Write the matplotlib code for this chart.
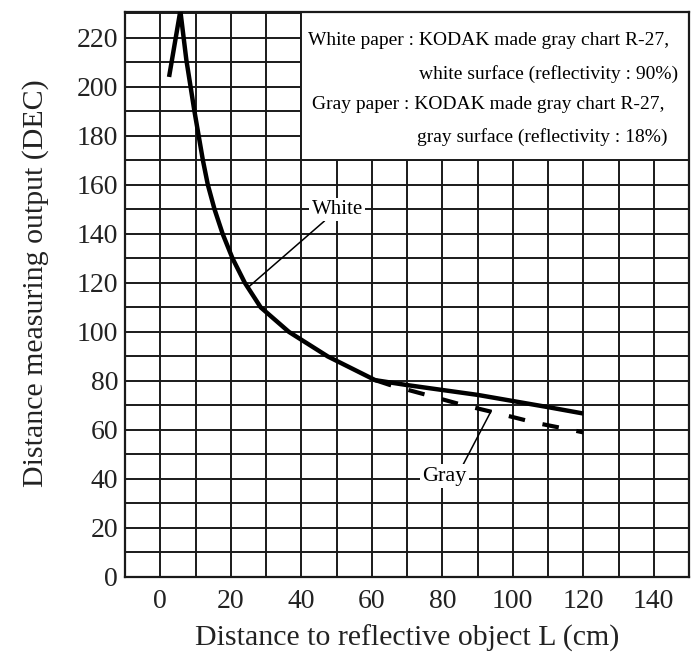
import matplotlib
matplotlib.use("Agg")
import matplotlib.pyplot as plt
from matplotlib.patches import Rectangle

# Data
white_x = [2.5, 5.7, 7.4, 9.7, 10.9, 12.1, 13.5, 15.4, 17.7, 20.5, 24.0, 28.5, 36.5, 47.5, 61, 70, 80, 90, 100, 110, 120]
white_y = [204, 231, 211, 190, 180, 170, 160, 150, 140, 130, 120, 110, 100, 90, 80.3, 78.3, 76.3, 74.3, 71.8, 69.3, 66.7]
gray_x = [61, 65, 75, 85, 96, 106.5, 117, 120]
gray_y = [80.3, 78.4, 74.5, 70.5, 66.7, 62.9, 59.9, 59.0]

x_ticks = [0, 20, 40, 60, 80, 100, 120, 140]
y_ticks = [0, 20, 40, 60, 80, 100, 120, 140, 160, 180, 200, 220]

legend_lines = [
    "White paper : KODAK made gray chart R-27,",
    "white surface (reflectivity : 90%)",
    "Gray paper : KODAK made gray chart R-27,",
    "gray surface (reflectivity : 18%)",
]

plt.rcParams['font.family'] = ['Liberation Serif', 'DejaVu Serif']

fig = plt.figure(figsize=(6.92, 6.62), dpi=100)
ax = fig.add_axes([125/692, 1-577/662, (689-125)/692, (577-12)/662])

gc = '#1a1a1a'
ax.set_xlim(-10, 150)
ax.set_ylim(0, 230.5)
ax.set_xticks(x_ticks)
ax.set_yticks(y_ticks)
ax.set_xticks(range(-10, 151, 10), minor=True)
ax.set_yticks(range(0, 231, 10), minor=True)
ax.tick_params(which='both', length=0, labelsize=20, colors='#222222')
ax.tick_params(axis='x', pad=9)
ax.tick_params(axis='y', pad=5)
ax.grid(True, which='both', color=gc, linewidth=1.4)
ax.set_axisbelow(True)
for s in ax.spines.values():
    s.set_color(gc)
    s.set_linewidth(1.6)

ax.plot(white_x, white_y, color='black', linewidth=3.2, solid_joinstyle='round', solid_capstyle='butt', zorder=4)
ax.plot(gray_x, gray_y, color='black', linewidth=3.0, dashes=(4, 4.3), dash_capstyle='butt', zorder=3)

# legend box
ax.add_patch(Rectangle((40, 170), 110, 60.5, facecolor='white', edgecolor=gc, linewidth=1.4, zorder=2))
lfs = 14
ax.text(42, 219, legend_lines[0], fontsize=lfs, ha='left', va='center', zorder=5)
ax.text(146.8, 205, legend_lines[1], fontsize=lfs, ha='right', va='center', zorder=5)
ax.text(43, 192.9, legend_lines[2], fontsize=lfs, ha='left', va='center', zorder=5)
ax.text(144, 179.4, legend_lines[3], fontsize=lfs, ha='right', va='center', zorder=5)

# annotations
ax.annotate('White', xy=(25.2, 118.5), xytext=(50.2, 150), fontsize=15,
            ha='center', va='center', zorder=5,
            bbox=dict(boxstyle='square,pad=0.1', facecolor='white', edgecolor='none'),
            arrowprops=dict(arrowstyle='-', color='black', linewidth=1.1, shrinkA=0, shrinkB=0,
                            relpos=(0.3, 0.0)))
ax.annotate('Gray', xy=(93.9, 67.8), xytext=(80.6, 41.2), fontsize=16,
            ha='center', va='center', zorder=5,
            bbox=dict(boxstyle='square,pad=0.1', facecolor='white', edgecolor='none'),
            arrowprops=dict(arrowstyle='-', color='black', linewidth=1.1, shrinkA=0, shrinkB=0,
                            relpos=(0.9, 1.0)))

ax.set_xlabel('Distance to reflective object L (cm)', fontsize=21.5, labelpad=7, color='#222222')
ax.set_ylabel('Distance measuring output (DEC)', fontsize=21.5, labelpad=20, color='#222222')
ax.yaxis.label.set_y(0.52)

fig.savefig('out.png', dpi=100)
